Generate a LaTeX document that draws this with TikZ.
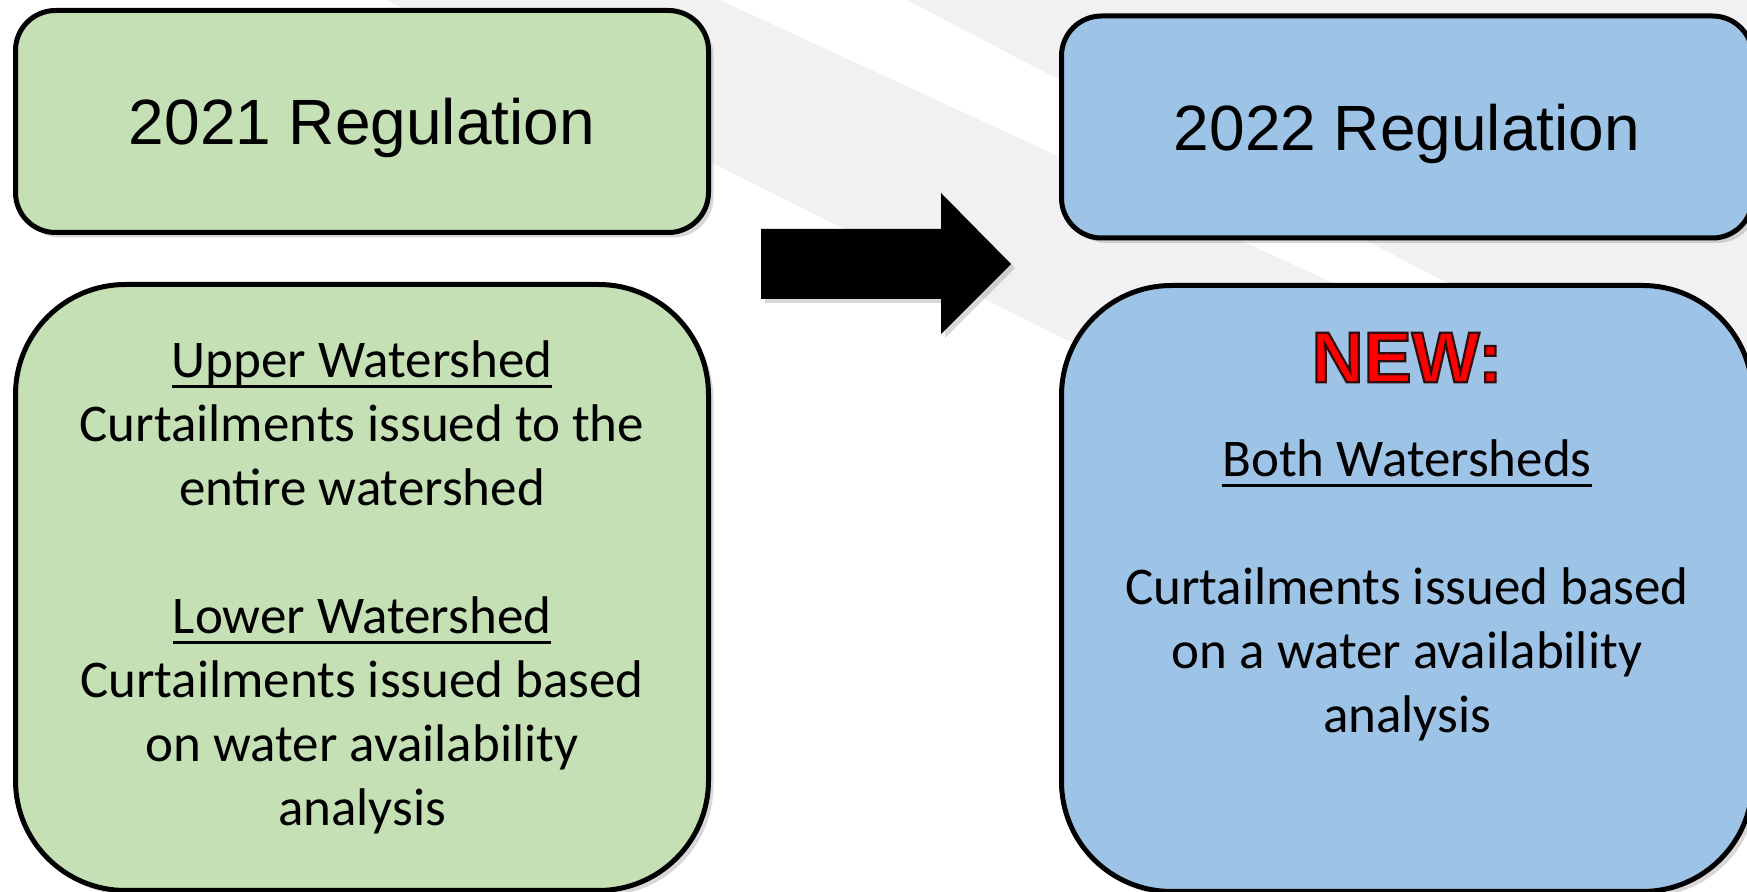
\documentclass[tikz,border=0pt]{standalone}
\usepackage{xcolor}
\usepackage{fontspec}
\setmainfont{Carlito}
\newfontfamily\arialfont{Liberation Sans}
\usetikzlibrary{shapes,positioning,shadows}

\definecolor{oldgreen}{HTML}{C5E0B4}
\definecolor{newblue}{HTML}{9DC3E6}
\definecolor{swoosh}{HTML}{F1F1F4}
\definecolor{newred}{HTML}{FF0000}

\newcommand\wsline[1]{\sbox0{#1}\rlap{\rule[-5.2pt]{\wd0}{1.5pt}}\usebox0}
\newcommand\newmark[1]{{\color{newred}\special{pdf:literal direct 2 Tr 1.1 w 0.2 0.05 0.05 RG}#1\special{pdf:literal direct 0 Tr}}}

\begin{document}
\begin{tikzpicture}[
    x=0.5pt, y=-0.5pt,
    regbox/.style={rectangle, draw, line width=2.5pt, align=center, inner sep=0pt,
        drop shadow={shadow xshift=2.5pt, shadow yshift=-2.5pt, opacity=0.3}},
    headbox/.style={regbox, rounded corners=20pt, minimum height=111pt, text depth=0pt, font=\arialfont\fontsize{32pt}{38pt}\selectfont},
    rulebox/.style={regbox, rounded corners=55pt, minimum height=303pt, font=\fontsize{26.5pt}{32pt}\selectfont},
    oldfill/.style={fill=oldgreen, minimum width=346.5pt},
    newfill/.style={fill=newblue, minimum width=345.5pt}
]

\useasboundingbox (0,0) rectangle (1747,892);

% Background
\fill [white] (0,0) rectangle (1747,892);
\fill [swoosh] (0,-332) -- (1747,474) -- (1747,680) -- (0,-193) -- cycle;
\fill [swoosh] (907,0) -- (1747,440) -- (1747,0) -- cycle;

% 2021 Regulation
\node [headbox, oldfill] (old) at (362,121.5) {2021 Regulation};

% 2021 watershed rules
\node [rulebox, oldfill, below=23.5pt of old] (oldrule) {\wsline{Upper Watershed}\\Curtailments issued to the\\entire watershed\\[32pt]\wsline{Lower Watershed}\\Curtailments issued based\\on water availability\\analysis};

% 2022 Regulation
\node [headbox, newfill, right=174pt of old, yshift=-2.75pt] (new) {2022 Regulation};

% 2022 watershed rules
\node [rulebox, newfill, below=21.25pt of new] (newrule) {\newmark{\arialfont\bfseries\fontsize{36pt}{40pt}\selectfont NEW:}\\[15pt]\wsline{Both Watersheds}\\[32pt]Curtailments issued based\\on a water availability\\analysis\\[24pt]\mbox{}};

% Arrow
\fill [drop shadow={shadow xshift=2pt, shadow yshift=-2pt, opacity=0.3}] (761,229) -- (941,229) -- (941,193) -- (1011,264) -- (941,334) -- (941,299) -- (761,299) -- cycle;

\end{tikzpicture}
\end{document}
